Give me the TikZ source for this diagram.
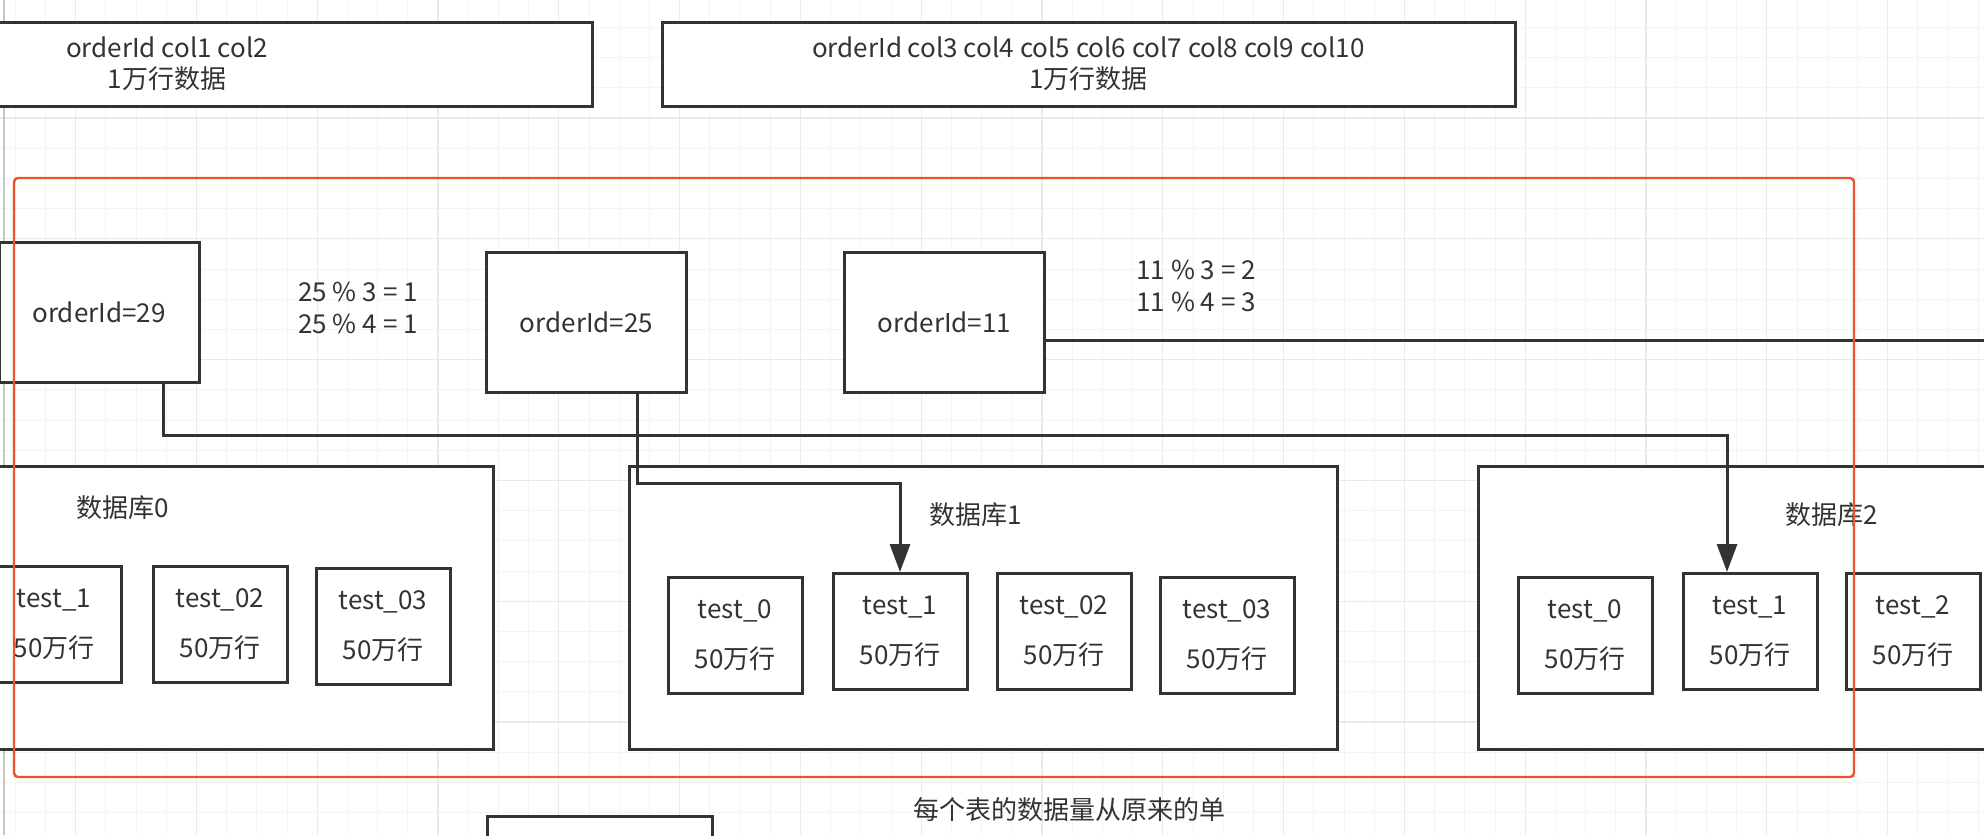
\documentclass[tikz,border=0pt]{standalone}
\usepackage{fontspec}
\setmainfont{Noto Sans CJK SC}
\usetikzlibrary{arrows.meta}
\definecolor{linec}{HTML}{333333}
\definecolor{textc}{HTML}{333333}
\definecolor{framec}{HTML}{EA542D}
\definecolor{gridminor}{HTML}{F4F4F4}
\definecolor{gridmajor}{HTML}{EAEAEA}
\tikzset{
  box/.style={draw=linec, line width=1.5pt, fill=white, rectangle, align=center, text=textc, inner sep=0pt, font=\fontsize{13}{15.5}\selectfont},
  idbox/.style={box, minimum width=100pt, minimum height=70pt},
  wide/.style={box, minimum height=42pt},
  db/.style={box, minimum width=354pt, minimum height=141.5pt},
  tbl/.style={box, minimum width=67pt, minimum height=58pt, font=\fontsize{13}{25}\selectfont},
  plain/.style={align=center, text=textc, inner sep=0pt, font=\fontsize{13}{16}\selectfont},
  flow/.style={draw=linec, line width=1.5pt, -{Triangle[length=14pt,width=10pt]}},
  link/.style={draw=linec, line width=1.5pt},
  redframe/.style={draw=framec, line width=1.2pt, rounded corners=2pt},
}
\begin{document}
\begin{tikzpicture}[x=0.5pt, y=-0.5pt]
\useasboundingbox (0,0) rectangle (1984,835);
\clip (0,0) rectangle (1984,835);
\fill[white] (0,0) rectangle (1984,835);
% grid
\foreach \k in {0,...,66} {
  \draw[gridminor, line width=0.5pt] ({15.2+30.2*\k},0) -- ++(0,835);
}
\foreach \k in {0,...,28} {
  \draw[gridminor, line width=0.5pt] (0,{-2.8+30.2*\k}) -- ++(1984,0);
}
\foreach \k in {0,...,16} {
  \draw[gridmajor, line width=0.6pt] ({75.6+120.8*\k},0) -- ++(0,835);
}
\foreach \k in {0,...,7} {
  \draw[gridmajor, line width=0.6pt] (0,{-2.8+120.8*\k}) -- ++(1984,0);
}
\draw[gray!45, line width=1pt] (4,0) -- (4,835);

% column split
\node[wide, minimum width=425pt] (cols1) at (167,64) {orderId col1 col2\\1万行数据};
\node[wide, minimum width=426.5pt] (cols2) at (1088.5,64) {orderId col3 col4 col5 col6 col7 col8 col9 col10\\1万行数据};

% orders
\node[idbox] (o29) at (99,312.5) {orderId=29};
\node[idbox] (o25) at (586.5,322) {orderId=25};
\node[idbox] (o11) at (944.5,322) {orderId=11};
\node[plain] (m25) at (358,308) {25 \% 3 = 1\\25 \% 4 = 1};
\node[plain] (m11) at (1196,286) {11 \% 3 = 2\\11 \% 4 = 3};

% databases
\node[db] (db0) at (139,607.5) {};
\node[db] (db1) at (983,607.5) {};
\node[db] (db2) at (1832,607.5) {};
\node[plain] (lbl0) at ([xshift=-8pt,yshift=-21.5pt]db0.north) {数据库0};
\node[plain] (lbl1) at ([xshift=-3.5pt,yshift=-25pt]db1.north) {数据库1};
\node[plain] (lbl2) at ([yshift=-25pt]db2.north) {数据库2};

% tables
\node[tbl] (t01) at (54,624) {test\_1\\50万行};
\node[tbl] (t02) at (220,624) {test\_02\\50万行};
\node[tbl] (t03) at (383,626) {test\_03\\50万行};
\node[tbl] (t10) at (735,635) {test\_0\\50万行};
\node[tbl] (t11) at (900,631.5) {test\_1\\50万行};
\node[tbl] (t12) at (1064,631.5) {test\_02\\50万行};
\node[tbl] (t13) at (1227,635) {test\_03\\50万行};
\node[tbl] (t20) at (1585,635) {test\_0\\50万行};
\node[tbl] (t21) at (1750,631.5) {test\_1\\50万行};
\node[tbl] (t22) at (1913,631.5) {test\_2\\50万行};

% routes
\coordinate (exit11) at (2000,340);
\draw[link] (o11.east |- exit11) -- (exit11);
\draw[flow] ([xshift=32pt]o29.south) -- ++(0,51) -| ([xshift=-11.5pt]t21.north);
\draw[flow] ([xshift=25.5pt]o25.south) -- ++(0,90) -| (t11.north);

\draw[redframe] (14,178) rectangle (1854,777);

% below
\node[plain] (note) at (1069,810) {每个表的数据量从原来的单};
\node[box, minimum width=112.5pt, minimum height=50pt] (next) at (599.5,866) {};
\end{tikzpicture}
\end{document}
